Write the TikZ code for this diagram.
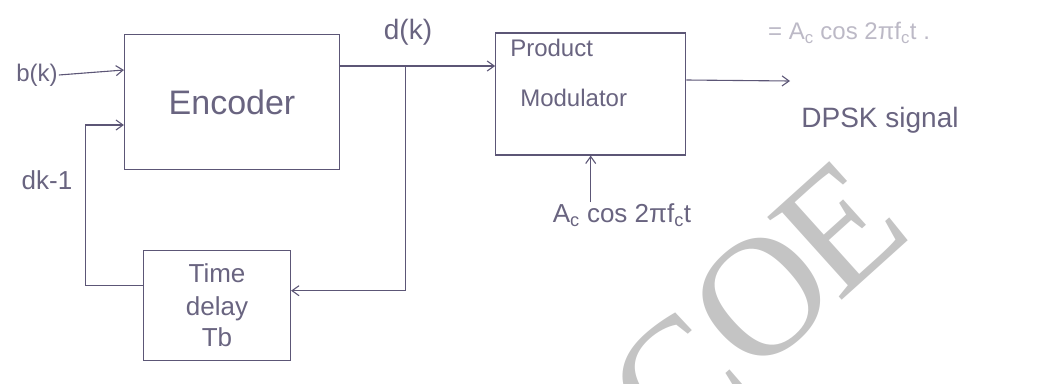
\documentclass[tikz,border=0pt]{standalone}
\usepackage{fontspec}
\setmainfont{Liberation Sans}
\newfontfamily\markfont{Liberation Serif}
\usetikzlibrary{positioning,arrows.meta}

\definecolor{ink}{RGB}{92,86,118}
\definecolor{inktext}{RGB}{105,100,128}
\definecolor{faint}{RGB}{188,185,198}
\definecolor{stamp}{RGB}{196,196,196}

\newcommand{\fs}[1]{\fontsize{#1}{#1}\selectfont}

\begin{document}
\begin{tikzpicture}[
    x=1pt, y=-1pt,
    blk/.style={draw=ink, line width=1.2pt, inner sep=0pt, align=center, text=inktext},
    lbl/.style={text=inktext, inner sep=1pt, align=center},
    wire/.style={draw=ink, line width=1.1pt},
    arr/.style={wire, -{Straight Barb[length=7pt,width=10pt]}},
    stampletter/.style={text=stamp, inner sep=0pt, rotate=42, font=\markfont\fs{170}}
]
\useasboundingbox (0,0) rectangle (1040,383);

\node[blk, minimum width=215pt, minimum height=135pt, font=\fs{34}] (enc) at (232,102) {Encoder};
\node[blk, minimum width=190pt, minimum height=122pt, right=155pt of enc, yshift=8pt] (pm) {};
\node[lbl, anchor=north west, align=left, font=\fontsize{24}{50}\selectfont] (pmtxt)
    at ([xshift=14pt,yshift=-6pt]pm.north west) {Product\\\hspace*{10pt}Modulator};
\node[blk, minimum width=147pt, minimum height=110pt, below=80pt of enc, xshift=-15pt,
    font=\fontsize{26}{32}\selectfont] (dly) {Time\\delay\\Tb};

% inputs and labels
\node[lbl, font=\fs{24}] (bk) at (37,75) {b(k)};
\node[lbl, font=\fs{26}] (dkm) at (47,180) {dk-1};
\node[lbl, font=\fs{28}] (dk) at (408,32) {d(k)};
\node[lbl, font=\fs{28}] (dpsk) at (880,120) {DPSK signal};
\node[lbl, font=\fs{26}] (car) at (622,215) {A\textsubscript{c} cos 2πf\textsubscript{c}t};
\node[lbl, anchor=west, text=faint, font=\fs{24}] (eq) at (767,33) {= A\textsubscript{c} cos 2πf\textsubscript{c}t .};

\coordinate (tap) at ([xshift=65pt,yshift=36pt]enc.east);
\coordinate (out) at (790,81);

\draw[arr] (bk.east) -- ([yshift=32pt]enc.west);
\draw[arr] ([yshift=36pt]enc.east) -- (tap -| pm.west);
\draw[arr] (tap) |- ([yshift=15pt]dly.east);
\draw[arr] ([yshift=20pt]dly.west) -- ++(-57,0) |- ([yshift=-23pt]enc.west);
\draw[arr] ([yshift=14pt]pm.east) -- (out);
\draw[arr] (pm.south |- car.north) -- (pm.south);

% stamp across the lower right, one letter at a time
\node[stampletter] (stc) at (678,382) {C};
\node[stampletter] (sto) at (762,297) {O};
\node[stampletter] (ste) at (840,227) {E};
\end{tikzpicture}
\end{document}
